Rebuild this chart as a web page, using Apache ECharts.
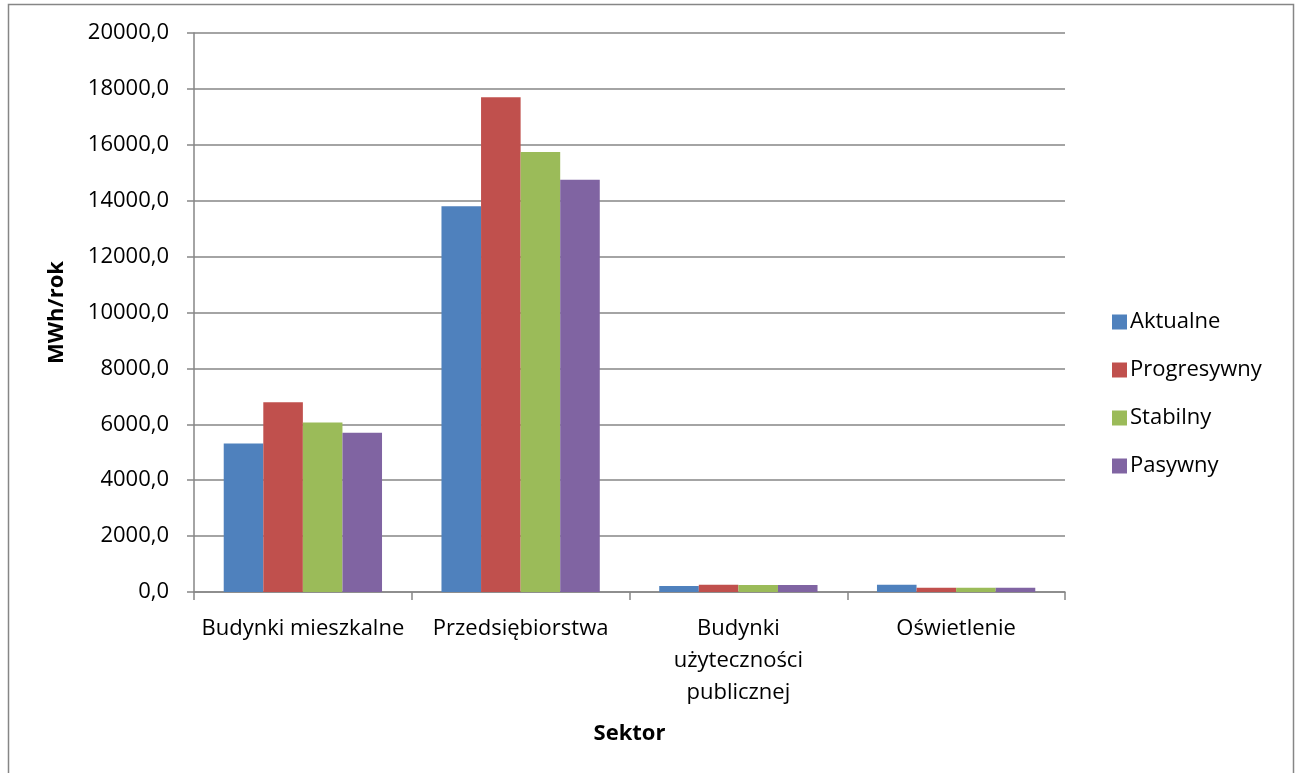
<!DOCTYPE html>
<html>
<head>
<meta charset="utf-8">
<script src="https://cdn.jsdelivr.net/npm/echarts@6/dist/echarts.min.js"></script>
<style>
html,body{margin:0;padding:0;background:#fff;}
#c{width:1296px;height:773px;}
</style>
</head>
<body>
<div id="c"></div>
<script>
const categories = ['Budynki mieszkalne', 'Przedsiębiorstwa', 'Budynki\nużyteczności\npublicznej', 'Oświetlenie'];
const seriesNames = ['Aktualne', 'Progresywny', 'Stabilny', 'Pasywny'];
const aktualne = [5310, 13800, 215, 260];
const progresywny = [6790, 17700, 262, 150];
const stabilny = [6060, 15740, 250, 150];
const pasywny = [5700, 14750, 250, 150];
const yTicks = [0, 2000, 4000, 6000, 8000, 10000, 12000, 14000, 16000, 18000, 20000];

const colors = ['#4F81BD', '#C0504D', '#9BBB59', '#8064A2'];
const values = [aktualne, progresywny, stabilny, pasywny];
const font = '"Open Sans", sans-serif';

const chart = echarts.init(document.getElementById('c'), null, {renderer: 'canvas'});
chart.setOption({
  animation: false,
  backgroundColor: '#fff',
  textStyle: {fontFamily: font, color: '#000'},
  graphic: [{
    type: 'rect', shape: {x: 8.5, y: 4.5, width: 1285, height: 780},
    style: {fill: null, stroke: '#868686', lineWidth: 1.5}, silent: true
  }],
  grid: {left: 194, top: 33, width: 871, height: 559, containLabel: false},
  legend: {
    orient: 'vertical', left: 1107, top: 306,
    itemWidth: 15, itemHeight: 15, itemGap: 26,
    icon: 'rect',
    textStyle: {fontFamily: font, fontSize: 22, color: '#000', lineHeight: 22, padding: [0, 0, 0, -2]},
    data: seriesNames
  },
  xAxis: {
    type: 'category', data: categories,
    name: 'Sektor', nameLocation: 'middle', nameGap: 131,
    nameTextStyle: {fontFamily: font, fontSize: 22, fontWeight: 'bold', color: '#000'},
    axisLine: {lineStyle: {color: '#868686', width: 1.5}},
    axisTick: {show: true, length: 8, interval: 0, lineStyle: {color: '#868686', width: 1.5}},
    axisLabel: {fontFamily: font, fontSize: 22, color: '#000', margin: 21, lineHeight: 32, interval: 0, verticalAlign: 'top'}
  },
  yAxis: {
    type: 'value', min: 0, max: 20000, interval: 2000,
    name: 'MWh/rok', nameLocation: 'middle', nameGap: 126, nameRotate: 90,
    nameTextStyle: {fontFamily: font, fontSize: 22, fontWeight: 'bold', color: '#000'},
    axisLine: {show: true, lineStyle: {color: '#868686', width: 1.5}},
    axisTick: {show: true, length: 7, inside: false, lineStyle: {color: '#868686', width: 1.5}},
    splitLine: {show: true, lineStyle: {color: '#868686', width: 1.5}},
    axisLabel: {
      fontFamily: font, fontSize: 22, color: '#000', margin: 25,
      formatter: v => yTicks.includes(v) ? v.toFixed(1).replace('.', ',') : ''
    }
  },
  series: seriesNames.map((n, i) => ({
    name: n, type: 'bar', data: values[i],
    barGap: '0%', barCategoryGap: '27.3%',
    itemStyle: {color: colors[i]}
  }))
});
</script>
</body>
</html>
